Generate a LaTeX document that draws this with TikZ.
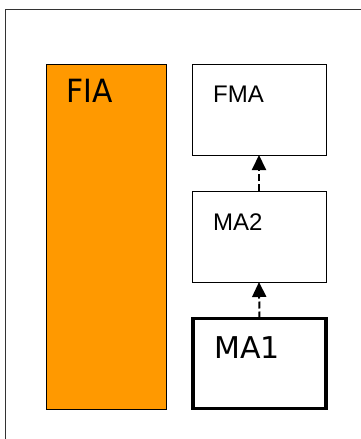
\documentclass[tikz,border=0pt]{standalone}
\usepackage{fontspec}
\setmainfont{DejaVu Sans}
\newfontfamily\bigfont[FakeStretch=0.93]{DejaVu Sans}
\newfontfamily\smallfont{Liberation Sans}
\usetikzlibrary{arrows.meta}
\definecolor{fiaorange}{HTML}{FF9900}
\begin{document}
\begin{tikzpicture}[x=1pt,y=-1pt,
  box/.style={draw=black, line width=1pt, inner sep=0pt, outer sep=0pt},
  bigtxt/.style={anchor=base west, inner sep=0pt, text=black, font=\bigfont\fontsize{32}{32}\selectfont},
  smalltxt/.style={anchor=base west, inner sep=0pt, font=\smallfont\fontsize{24}{24}\selectfont, text=black},
  dep/.style={-{Triangle[length=15pt,width=14pt]}, line width=2pt, dash pattern=on 7pt off 3pt}]
\useasboundingbox (0,0) rectangle (361,439);
\draw[line width=1pt, black!80] (5.5,439) -- (5.5,9.5) -- (361,9.5);
\node[box, fill=fiaorange, minimum width=120pt, minimum height=345pt, anchor=north west] (fia) at (46,64) {};
\node[box, minimum width=134pt, minimum height=91pt, anchor=north west] (fma) at (192,64) {};
\node[box, minimum width=134pt, minimum height=91pt, anchor=north west] (ma2) at (192,191) {};
\node[box, line width=3.5pt, minimum width=133pt, minimum height=90pt, anchor=north west] (ma1) at (193,318.5) {};
\node[bigtxt] (tfia) at (66,102) {FIA};
\node[smalltxt] (tfma) at (213,102) {FMA};
\node[smalltxt] (tma2) at (213,230) {MA2};
\node[bigtxt, font=\normalfont\fontsize{30}{30}\selectfont] (tma1) at (214,358) {MA1};
\draw[dep] (ma1.north) -- (ma2.south);
\draw[dep] (ma2.north) -- (fma.south);
\end{tikzpicture}
\end{document}
